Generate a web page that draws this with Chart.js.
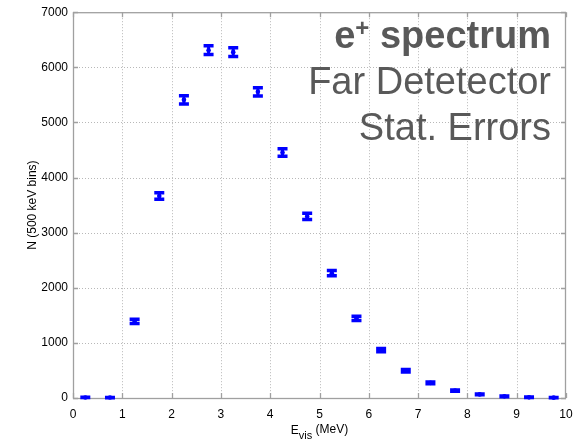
<!DOCTYPE html>
<html>
<head>
<meta charset="utf-8">
<script src="https://cdn.jsdelivr.net/npm/chart.js@4.4.0/dist/chart.umd.min.js"></script>
<style>
html,body{margin:0;padding:0;background:#fff;}
#wrap{width:584px;height:445px;position:relative;}
</style>
</head>
<body>
<div id="wrap"><canvas id="c" width="584" height="445"></canvas></div>
<script>
// Bin centres (MeV)
const binCenters = [0.25,0.75,1.25,1.75,2.25,2.75,3.25,3.75,4.25,4.75,5.25,5.75,6.25,6.75,7.25,7.75,8.25,8.75,9.25,9.75];
// Counts per 500 keV bin
const counts = [10,8,1390,3665,5410,6310,6275,5555,4455,3295,2265,1445,870,495,275,135,65,30,12,6];
// Statistical errors
const statErrors = [3,3,37,61,74,79,79,75,67,57,48,38,29,22,17,12,8,6,4,3];
const xTicks = [0,1,2,3,4,5,6,7,8,9,10];
const yTicks = [0,1000,2000,3000,4000,5000,6000,7000];
const xTitleMain = 'E';
const xTitleSub = 'vis';
const xTitleUnit = ' (MeV)';
const yTitle = 'N (500 keV bins)';
const annotationLines = [['e','+',' spectrum'],['Far Detetector'],['Stat. Errors']];

const FONT = '"Liberation Sans", Arial, Helvetica, sans-serif';

const pts = binCenters.map((x,i)=>({x:x,y:counts[i]}));

const decor = {
  id:'decor',
  beforeDatasetsDraw(chart){
    const ctx = chart.ctx, ca = chart.chartArea;
    const xs = chart.scales.x, ys = chart.scales.y;
    ctx.save();
    ctx.strokeStyle = '#b8b8b8';
    ctx.lineWidth = 1;
    ctx.setLineDash([1,2]);
    xTicks.forEach(v=>{
      if (v===xTicks[0]||v===xTicks[xTicks.length-1]) return;
      const px = Math.round(xs.getPixelForValue(v))+0.5;
      ctx.beginPath(); ctx.moveTo(px,ca.top); ctx.lineTo(px,ca.bottom); ctx.stroke();
    });
    yTicks.forEach(v=>{
      if (v===yTicks[0]||v===yTicks[yTicks.length-1]) return;
      const py = Math.round(ys.getPixelForValue(v))+0.5;
      ctx.beginPath(); ctx.moveTo(ca.left,py); ctx.lineTo(ca.right,py); ctx.stroke();
    });
    ctx.restore();
  },
  afterDatasetsDraw(chart){
    const ctx = chart.ctx, ca = chart.chartArea;
    const xs = chart.scales.x, ys = chart.scales.y;

    // box and inward ticks
    ctx.save();
    ctx.strokeStyle = '#a0a0a0';
    ctx.lineWidth = 1.3;
    ctx.setLineDash([]);
    ctx.strokeRect(ca.left+0.5, ca.top+0.5, ca.right-ca.left-1, ca.bottom-ca.top);
    const tl = 5;
    ctx.beginPath();
    xTicks.forEach(v=>{
      const px = Math.round(xs.getPixelForValue(v))+0.5;
      ctx.moveTo(px,ca.bottom); ctx.lineTo(px,ca.bottom-tl);
      ctx.moveTo(px,ca.top); ctx.lineTo(px,ca.top+tl);
    });
    yTicks.forEach(v=>{
      const py = Math.round(ys.getPixelForValue(v))+0.5;
      ctx.moveTo(ca.left,py); ctx.lineTo(ca.left+tl,py);
      ctx.moveTo(ca.right,py); ctx.lineTo(ca.right-tl,py);
    });
    ctx.stroke();
    ctx.restore();

    // error bars
    ctx.save();
    ctx.strokeStyle = '#0000ff';
    ctx.fillStyle = '#0000ff';
    ctx.setLineDash([]);
    binCenters.forEach((x,i)=>{
      const px = xs.getPixelForValue(x);
      const yHi = ys.getPixelForValue(counts[i]+statErrors[i]);
      const yLo = ys.getPixelForValue(Math.max(0,counts[i]-statErrors[i]));
      const py = ys.getPixelForValue(counts[i]);
      const hw = 5;
      ctx.lineWidth = 3;
      ctx.beginPath();
      ctx.moveTo(px,yHi); ctx.lineTo(px,yLo);
      ctx.stroke();
      ctx.lineWidth = 3.5;
      ctx.beginPath();
      ctx.moveTo(px-hw,yHi); ctx.lineTo(px+hw,yHi);
      ctx.moveTo(px-hw,yLo); ctx.lineTo(px+hw,yLo);
      ctx.stroke();
      ctx.beginPath(); ctx.arc(px,py,2.3,0,Math.PI*2); ctx.fill();
    });
    ctx.restore();

    // axis titles
    ctx.save();
    ctx.fillStyle = '#000';
    ctx.textBaseline = 'alphabetic';
    ctx.font = '12px '+FONT;
    const wE = ctx.measureText(xTitleMain).width;
    ctx.font = '11px '+FONT;
    const wS = ctx.measureText(xTitleSub).width;
    ctx.font = '12px '+FONT;
    const wU = ctx.measureText(xTitleUnit).width;
    const total = wE+wS+wU;
    let sx = (ca.left+ca.right)/2 - total/2;
    const base = 434;
    ctx.textAlign = 'left';
    ctx.fillText(xTitleMain, sx, base);
    ctx.font = '11px '+FONT;
    ctx.fillText(xTitleSub, sx+wE, base+5);
    ctx.font = '12px '+FONT;
    ctx.fillText(xTitleUnit, sx+wE+wS, base-1);
    // y title
    ctx.translate(36, (ca.top+ca.bottom)/2);
    ctx.rotate(-Math.PI/2);
    ctx.textAlign = 'center';
    ctx.font = '12px '+FONT;
    ctx.fillText(yTitle, 0, 0);
    ctx.restore();

    // annotation text
    ctx.save();
    ctx.fillStyle = '#595959';
    ctx.textAlign = 'left';
    const rightX = 551;
    const bigBold = 'bold 38px '+FONT;
    const supBold = 'bold 24px '+FONT;
    ctx.font = bigBold;
    const w1a = ctx.measureText(annotationLines[0][0]).width;
    const w1c = ctx.measureText(annotationLines[0][2]).width;
    ctx.font = supBold;
    const w1b = ctx.measureText(annotationLines[0][1]).width;
    let x1 = rightX - (w1a+w1b+w1c);
    ctx.font = bigBold;
    ctx.fillText(annotationLines[0][0], x1, 48);
    ctx.font = supBold;
    ctx.fillText(annotationLines[0][1], x1+w1a, 36);
    ctx.font = bigBold;
    ctx.fillText(annotationLines[0][2], x1+w1a+w1b, 48);
    ctx.textAlign = 'right';
    ctx.font = '38px '+FONT;
    ctx.fillText(annotationLines[1][0], rightX, 94);
    ctx.fillText(annotationLines[2][0], rightX, 140);
    ctx.restore();
  }
};

new Chart(document.getElementById('c'), {
  type:'scatter',
  data:{datasets:[{data:pts, pointRadius:0, showLine:false, backgroundColor:'#0000ff', borderColor:'#0000ff'}]},
  options:{
    responsive:false,
    animation:false,
    devicePixelRatio:1,
    layout:{padding:{top:10,right:18,left:0,bottom:0}},
    plugins:{legend:{display:false},tooltip:{enabled:false}},
    scales:{
      x:{
        type:'linear', min:0, max:10,
        afterBuildTicks(s){ s.ticks = xTicks.map(v=>({value:v})); },
        afterFit(s){ s.height = 47; },
        grid:{display:false, drawTicks:false},
        border:{display:false},
        ticks:{color:'#000', font:{family:FONT,size:12}, padding:9, maxRotation:0, autoSkip:false,
          callback:(v)=>String(v)}
      },
      y:{
        type:'linear', min:0, max:7000,
        afterBuildTicks(s){ s.ticks = yTicks.map(v=>({value:v})); },
        afterFit(s){ s.width = 73; },
        grid:{display:false, drawTicks:false},
        border:{display:false},
        ticks:{color:'#000', font:{family:FONT,size:12}, padding:5, autoSkip:false,
          callback:(v)=>String(v)}
      }
    }
  },
  plugins:[decor]
});
</script>
</body>
</html>
